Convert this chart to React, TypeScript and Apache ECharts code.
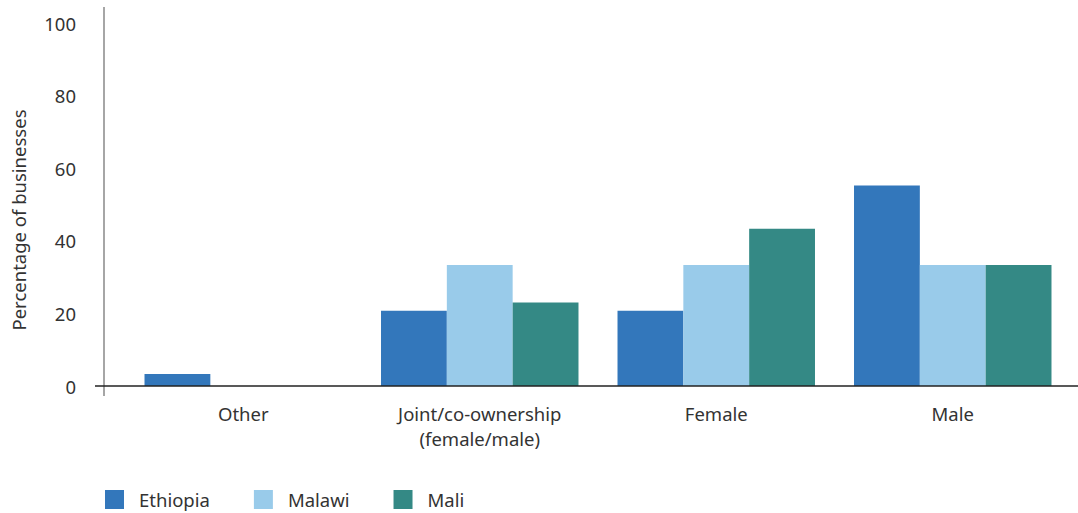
import React, { useEffect, useRef } from "react";
import * as echarts from "echarts";

const categories = ["Other", "Joint/co-ownership\n(female/male)", "Female", "Male"];
const ethiopia = [3.3, 20.7, 20.7, 55.2];
const malawi = [0, 33.3, 33.3, 33.3];
const mali = [0, 23.0, 43.3, 33.3];
const yTicks = [0, 20, 40, 60, 80, 100];

const FONT = "Noto Sans";

export default function App() {
  const ref = useRef<HTMLDivElement>(null);
  useEffect(() => {
    const chart = echarts.init(ref.current!, undefined, { renderer: "svg" });
    const mk = (name: string, data: number[], color: string) => ({
      name,
      type: "bar",
      data,
      itemStyle: { color },
      barGap: "0%",
      barCategoryGap: "16.5%",
    });
    chart.setOption({
      animation: false,
      textStyle: { fontFamily: FONT },
      grid: { left: 125, right: 7, top: 23, bottom: 127 },
      xAxis: {
        type: "category",
        data: categories,
        axisLine: { show: false },
        axisTick: { show: false },
        axisLabel: { color: "#333", fontSize: 18.5, margin: 15, lineHeight: 25, fontFamily: FONT },
      },
      yAxis: {
        type: "value",
        min: yTicks[0],
        max: yTicks[yTicks.length - 1],
        interval: 20,
        axisLine: { show: false },
        axisTick: { show: false },
        splitLine: { show: false },
        axisLabel: { color: "#333", fontSize: 18.5, margin: 49, fontFamily: FONT },
      },
      legend: {
        left: 105,
        bottom: 4,
        padding: 0,
        itemWidth: 19,
        itemHeight: 19,
        itemGap: 44,
        icon: "rect",
        textStyle: { color: "#333", fontSize: 18.5, fontFamily: FONT, padding: [0, 0, 0, 10] },
      },
      graphic: [
        { type: "line", shape: { x1: 104, y1: 7, x2: 104, y2: 396 }, style: { stroke: "#888", lineWidth: 1.5 }, z: 10 },
        { type: "line", shape: { x1: 95, y1: 386, x2: 1078, y2: 386 }, style: { stroke: "#222", lineWidth: 1.5 }, z: 10 },
        {
          type: "text",
          x: 18,
          y: 220,
          rotation: Math.PI / 2,
          style: { text: "Percentage of businesses", fill: "#333", fontSize: 18.5, fontFamily: FONT, align: "center", verticalAlign: "middle" },
        },
      ],
      series: [mk("Ethiopia", ethiopia, "#3377bb"), mk("Malawi", malawi, "#99cbea"), mk("Mali", mali, "#348985")],
    });
    return () => chart.dispose();
  }, []);
  return <div ref={ref} style={{ width: 1078, height: 513, position: "absolute", left: 0, top: 0 }} />;
}
